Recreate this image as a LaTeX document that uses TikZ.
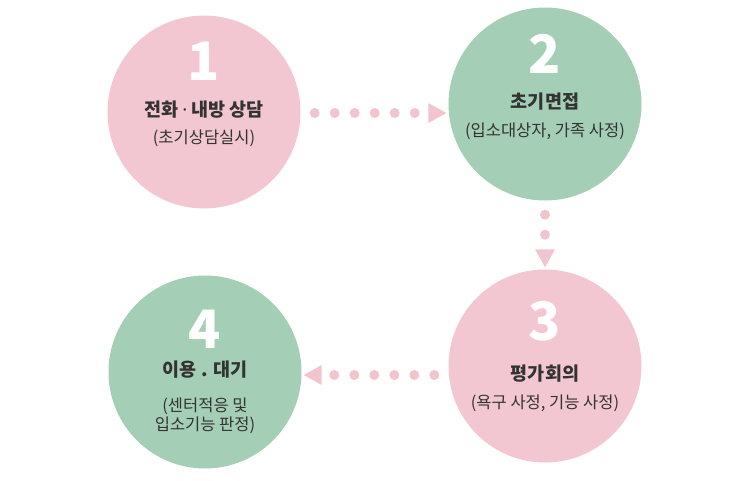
\documentclass[tikz,border=0pt]{standalone}
\usepackage{fontspec}
\setmainfont{Noto Sans CJK KR}
\newfontfamily\latinfont{Noto Sans}
\usepackage{tikz}
\usetikzlibrary{arrows.meta}
\definecolor{stepPink}{HTML}{F3C7D1}
\definecolor{stepGreen}{HTML}{A5CEB6}
\definecolor{dotPink}{HTML}{F2C4CE}
\definecolor{txtGray}{HTML}{333333}
\tikzset{
	stepcircle/.style={circle, fill=#1, minimum size=193pt, inner sep=0pt},
	stepnum/.style={text=white, font=\fontsize{53}{53}\selectfont\bfseries},
	steptitle/.style={text=txtGray, font=\fontsize{18.5}{21}\selectfont\bfseries},
	stepnote/.style={text=txtGray, font=\fontsize{16.5}{18.5}\selectfont, align=center},
	dotarr/.style={draw=dotPink, line width=10pt, line cap=round, dash pattern=on 0pt off 20pt,
		-{Triangle[length=18pt, width=20pt, line width=0pt]}, shorten >=2pt, shorten <=14pt},
}
\begin{document}
\begin{tikzpicture}[x=1pt, y=-1pt]
				\useasboundingbox (0,0) rectangle (749,480);
				% steps
				\node[stepcircle=stepPink] (c1) at (204,112) {};
				\node[stepcircle=stepGreen] (c2) at (545,104) {};
				\node[stepcircle=stepPink] (c3) at (545,366) {};
				\node[stepcircle=stepGreen] (c4) at (205,372) {};
				\node[stepnum] (n1) at (204,61) {1};
				\node[steptitle] (t1) at (204,110) {전화 {\latinfont\bfseries ·} 내방 상담};
				\node[stepnote] (s1) at (204,138) {(초기상담실시)};
				\node[stepnum] (n2) at (545,54) {2};
				\node[steptitle] (t2) at (545,102) {초기면접};
				\node[stepnote] (s2) at (545,131) {(입소대상자, 가족 사정)};
				\node[stepnum] (n3) at (545,321) {3};
				\node[steptitle] (t3) at (545,374) {평가회의};
				\node[stepnote] (s3) at (545,403) {(욕구 사정, 기능 사정)};
				\node[stepnum] (n4) at (205,329) {4};
				\node[steptitle] (t4) at (205,370) {이용 . 대기};
				\node[stepnote] (s4) at (205,416) {(센터적응 및\\입소기능 판정)};
				% flow
				\draw[dotarr] ([yshift=-1pt]c1.east) -- ([yshift=-1pt]c1.east -| c2.west);
				\draw[dotarr] (c2.south) -- (c3.north);
				\draw[dotarr] ([yshift=-9pt]c3.west) -- ([yshift=-9pt]c3.west -| c4.east);
			\end{tikzpicture}
\end{document}
